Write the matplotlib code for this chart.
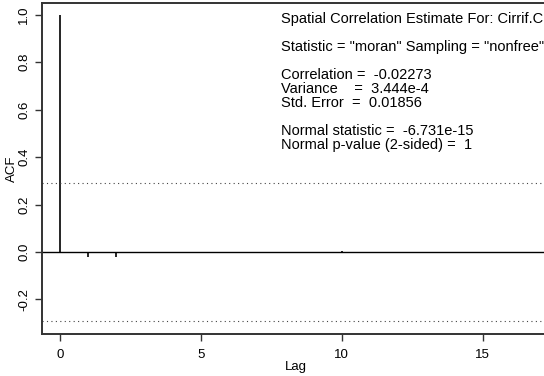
import numpy as np
import matplotlib.pyplot as plt

plt.rcParams['font.family'] = ['Liberation Sans', 'DejaVu Sans']

lags = np.arange(0, 18)
acf = [1.0, -0.02, -0.02, -0.002, -0.001, 0.0, -0.001, -0.002, -0.003,
       -0.003, 0.003, -0.004, -0.006, -0.006, -0.006, -0.005, -0.006, -0.002]
conf = 0.29

info_lines = [
    'Spatial Correlation Estimate For: Cirrif.C',
    '',
    'Statistic = "moran" Sampling = "nonfree"',
    '',
    'Correlation =  -0.02273',
    'Variance    =  3.444e-4',
    'Std. Error  =  0.01856',
    '',
    'Normal statistic =  -6.731e-15',
    'Normal p-value (2-sided) =  1',
]

fig = plt.figure(figsize=(5.44, 3.76), dpi=100)
ax = fig.add_axes([0.077, 0.112, 0.935, 0.880])

ax.vlines(lags, 0, acf, color='black', linewidth=1.2)
ax.axhline(0, color='black', linewidth=1.0)
ax.axhline(conf, color='#444444', linewidth=0.8, linestyle=(0, (1, 3)))
ax.axhline(-conf, color='#444444', linewidth=0.8, linestyle=(0, (1, 3)))

ax.set_xlim(-0.64, 17.4)
ax.set_ylim(-0.345, 1.05)
ax.set_xticks([0, 5, 10, 15])
ax.set_yticks([-0.2, 0.0, 0.2, 0.4, 0.6, 0.8, 1.0])
ax.set_yticklabels(['-0.2', '0.0', '0.2', '0.4', '0.6', '0.8', '1.0'],
                   rotation=90, va='center')
ax.tick_params(labelsize=9.5, length=5, width=1, color='#333333')
ax.tick_params(axis='x', pad=6)
ax.set_xlabel('Lag', fontsize=9.5, labelpad=0)
ax.set_ylabel('ACF', fontsize=9.5, labelpad=0)
for s in ax.spines.values():
    s.set_linewidth(1.4)
    s.set_color('#333333')

y = 19
for line in info_lines:
    if line:
        fig.text(281 / 544, 1 - y / 376, line, fontsize=10.5, va='center', ha='left')
    y += 14

fig.savefig('out.png', dpi=100)
